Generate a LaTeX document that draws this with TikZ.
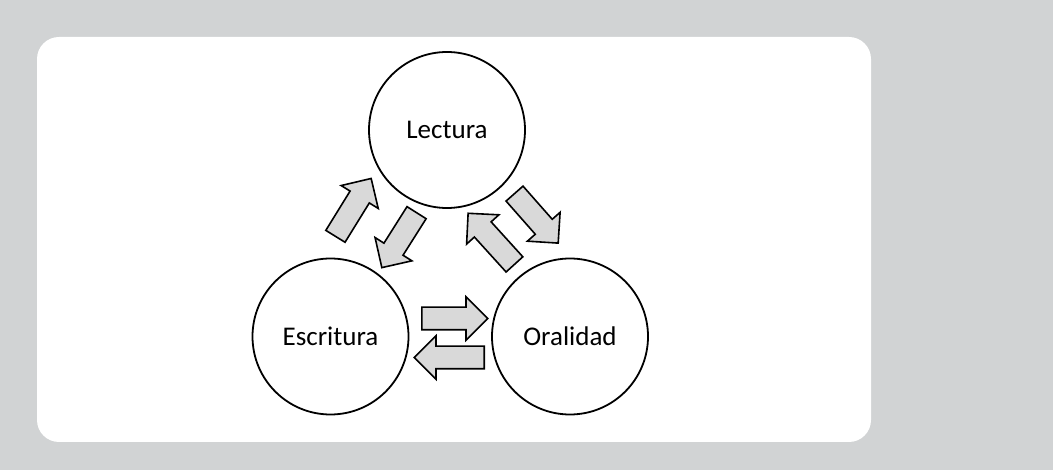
\documentclass[tikz,border=0pt]{standalone}
\usepackage{fontspec}
\setmainfont{Carlito}
\usetikzlibrary{shapes.arrows}
\definecolor{bggray}{RGB}{209,211,212}
\definecolor{arrowgray}{RGB}{217,217,217}
\begin{document}
\begin{tikzpicture}[x=1pt,y=-1pt,
  concept/.style={circle,draw=black,line width=1.8pt,fill=white,minimum size=156pt,inner sep=0pt,font=\fontsize{27}{31}\selectfont},
  blockarrow/.style={single arrow,draw=black,line width=1.6pt,fill=arrowgray,minimum width=42pt,single arrow head extend=10.5pt,single arrow tip angle=90,inner xsep=0pt,inner ysep=10.5pt,anchor=tail}]
\useasboundingbox (0,0) rectangle (1053,470);
\fill[bggray] (0,0) rectangle (1053,470);
\fill[white,rounded corners=22pt] (37,37) rectangle (871,442);
\node[concept] (lec) at (447,130) {Lectura};
\node[concept] (esc) at (330.5,336.5) {Escritura};
\node[concept] (ora) at (570,336.5) {Oralidad};
\node[blockarrow,minimum height=68pt,rotate=58.3] (a1) at (335,237) {};
\node[blockarrow,minimum height=65pt,rotate=-122.3] (a2) at (417,212) {};
\node[blockarrow,minimum height=69pt,rotate=132.2] (a3) at (515,265) {};
\node[blockarrow,minimum height=66pt,rotate=-48.6] (a4) at (514,193) {};
\node[blockarrow,minimum height=66pt] (a5) at (421,318.5) {};
\node[blockarrow,minimum height=70pt,rotate=180] (a6) at (485,357.5) {};
\end{tikzpicture}
\end{document}
